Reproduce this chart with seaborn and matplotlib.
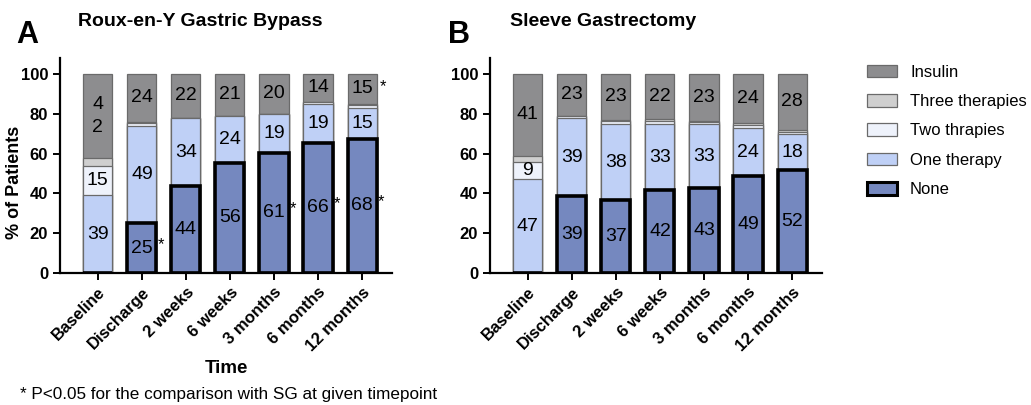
import numpy as np
import pandas as pd
import matplotlib
matplotlib.use("Agg")
import matplotlib.pyplot as plt
from matplotlib.patches import Patch
import seaborn as sns

sns.set_style("ticks")
plt.rcParams['font.family'] = ['Liberation Sans', 'DejaVu Sans']
plt.rcParams['text.color'] = 'black'
plt.rcParams['axes.labelcolor'] = 'black'
plt.rcParams['xtick.color'] = 'black'
plt.rcParams['ytick.color'] = 'black'
plt.rcParams['axes.edgecolor'] = 'black'

# data
timepoints = ["Baseline", "Discharge", "2 weeks", "6 weeks", "3 months", "6 months", "12 months"]
series = ["None", "One therapy", "Two thrapies", "Three therapies", "Insulin"]

# Roux-en-Y gastric bypass (bar heights, %)
rygb_none = [0, 25, 43.5, 55.5, 60.5, 65.5, 67.5]
rygb_one = [39, 49, 34.5, 23.5, 19.5, 19.5, 15.5]
rygb_two = [15, 1.5, 0, 0, 0, 1, 1.5]
rygb_three = [4, 0.5, 0, 0, 0, 0, 0.5]
rygb_insulin = [42, 24, 22, 21, 20, 14, 15]
rygb_labels = {
    "None": ["", "25", "44", "56", "61", "66", "68"],
    "One therapy": ["39", "49", "34", "24", "19", "19", "15"],
    "Two thrapies": ["15", "", "", "", "", "", ""],
    "Three therapies": ["", "", "", "", "", "", ""],
    "Insulin": ["4\n2", "24", "22", "21", "20", "14", "15"],
}
rygb_sig_none = [False, True, False, False, True, True, True]
rygb_sig_insulin = [False, False, False, False, False, False, True]

# Sleeve gastrectomy
sg_none = [0, 38.5, 36.5, 41.5, 42.5, 48.5, 51.5]
sg_one = [47, 39.5, 38.5, 33.5, 32.5, 24.5, 18.5]
sg_two = [9, 0.7, 1.5, 1.5, 1, 1.5, 1]
sg_three = [3, 0.3, 0.5, 1, 0.5, 1, 1]
sg_insulin = [41, 21, 23, 22.5, 23.5, 24.5, 28]
sg_labels = {
    "None": ["", "39", "37", "42", "43", "49", "52"],
    "One therapy": ["47", "39", "38", "33", "33", "24", "18"],
    "Two thrapies": ["9", "", "", "", "", "", ""],
    "Three therapies": ["", "", "", "", "", "", ""],
    "Insulin": ["41", "23", "23", "22", "23", "24", "28"],
}

colors = {
    "Insulin": "#8d8d8f",
    "Three therapies": "#cfcfcf",
    "Two thrapies": "#eef2fb",
    "One therapy": "#bfd0f6",
    "None": "#7588bf",
}
edge_grey = "#6a6a6a"


def draw_panel(ax, parts, labels, sig_none=None, sig_ins=None):
    df = pd.DataFrame(parts, index=timepoints)[series]
    cum = df.cumsum(axis=1)
    bottoms = cum.shift(1, axis=1).fillna(0)
    # draw from the top of the stack down so lower segments sit on top
    for s in series[::-1]:
        is_none = s == "None"
        sns.barplot(x=timepoints, y=cum[s].values, order=timepoints, ax=ax,
                    color=colors[s], saturation=1, width=0.66,
                    edgecolor="black" if is_none else edge_grey,
                    linewidth=2.6 if is_none else 0.9, zorder=2)
    for i, t in enumerate(timepoints):
        for s in series:
            lab = labels[s][i]
            if lab:
                ax.text(i, bottoms.loc[t, s] + df.loc[t, s] / 2, lab,
                        ha="center", va="center", fontsize=14, zorder=5,
                        linespacing=1.45)
        if sig_none is not None and sig_none[i]:
            ax.text(i + 0.43, df.loc[t, "None"] / 2 + 2, "*", ha="center",
                    va="center", fontsize=12)
        if sig_ins is not None and sig_ins[i]:
            ax.text(i + 0.48, 100 - df.loc[t, "Insulin"] / 2 + 1, "*",
                    ha="center", va="center", fontsize=12)
    ax.set_xlim(-0.86, 6.68)
    ax.set_ylim(0, 108)
    ax.set_yticks([0, 20, 40, 60, 80, 100])
    sns.despine(ax=ax)
    for sp in ["left", "bottom"]:
        ax.spines[sp].set_linewidth(1.6)
    ax.tick_params(width=1.4, length=5, labelsize=12)
    for lab in ax.get_yticklabels():
        lab.set_fontweight("bold")
    ax.set_xticks(range(len(timepoints)))
    ax.set_xticklabels(timepoints, rotation=45, ha="right",
                       rotation_mode="anchor", fontweight="bold", fontsize=12)


fig = plt.figure(figsize=(10.31, 4.05), dpi=100)
axA = fig.add_axes([60 / 1031, 1 - 273 / 405, 332 / 1031, 215 / 405])
axB = fig.add_axes([490 / 1031, 1 - 273 / 405, 332 / 1031, 215 / 405])

draw_panel(axA, {"None": rygb_none, "One therapy": rygb_one, "Two thrapies": rygb_two,
                 "Three therapies": rygb_three, "Insulin": rygb_insulin},
           rygb_labels, rygb_sig_none, rygb_sig_insulin)
draw_panel(axB, {"None": sg_none, "One therapy": sg_one, "Two thrapies": sg_two,
                 "Three therapies": sg_three, "Insulin": sg_insulin},
           sg_labels)

axA.set_ylabel("% of Patients", fontsize=13, fontweight="bold")
axA.yaxis.set_label_coords(-0.11, 0.42)
axA.set_xlabel("Time", fontsize=13.5, fontweight="bold", labelpad=4)
axB.set_ylabel("")

fig.text(200 / 1031, 1 - 22 / 405, "Roux-en-Y Gastric Bypass", ha="center",
         va="center", fontsize=14, fontweight="bold")
fig.text(603 / 1031, 1 - 22 / 405, "Sleeve Gastrectomy", ha="center",
         va="center", fontsize=14, fontweight="bold")
fig.text(16 / 1031, 1 - 35 / 405, "A", ha="left", va="center", fontsize=22,
         fontweight="bold")
fig.text(448 / 1031, 1 - 35 / 405, "B", ha="left", va="center", fontsize=22,
         fontweight="bold")
fig.text(20 / 1031, 1 - 395 / 405, "* P<0.05 for the comparison with SG at given timepoint",
         ha="left", va="center", fontsize=12.3)

handles = []
for s in series[::-1]:
    is_none = s == "None"
    handles.append(Patch(facecolor=colors[s],
                         edgecolor="black" if is_none else edge_grey,
                         linewidth=2.2 if is_none else 0.9, label=s))
fig.legend(handles=handles, loc="upper left", bbox_to_anchor=(860 / 1031, 1 - 58 / 405),
           frameon=False, fontsize=12, handlelength=1.8, handleheight=0.8,
           labelspacing=0.85, handletextpad=0.8, borderaxespad=0)

fig.savefig("out.png", dpi=100)
